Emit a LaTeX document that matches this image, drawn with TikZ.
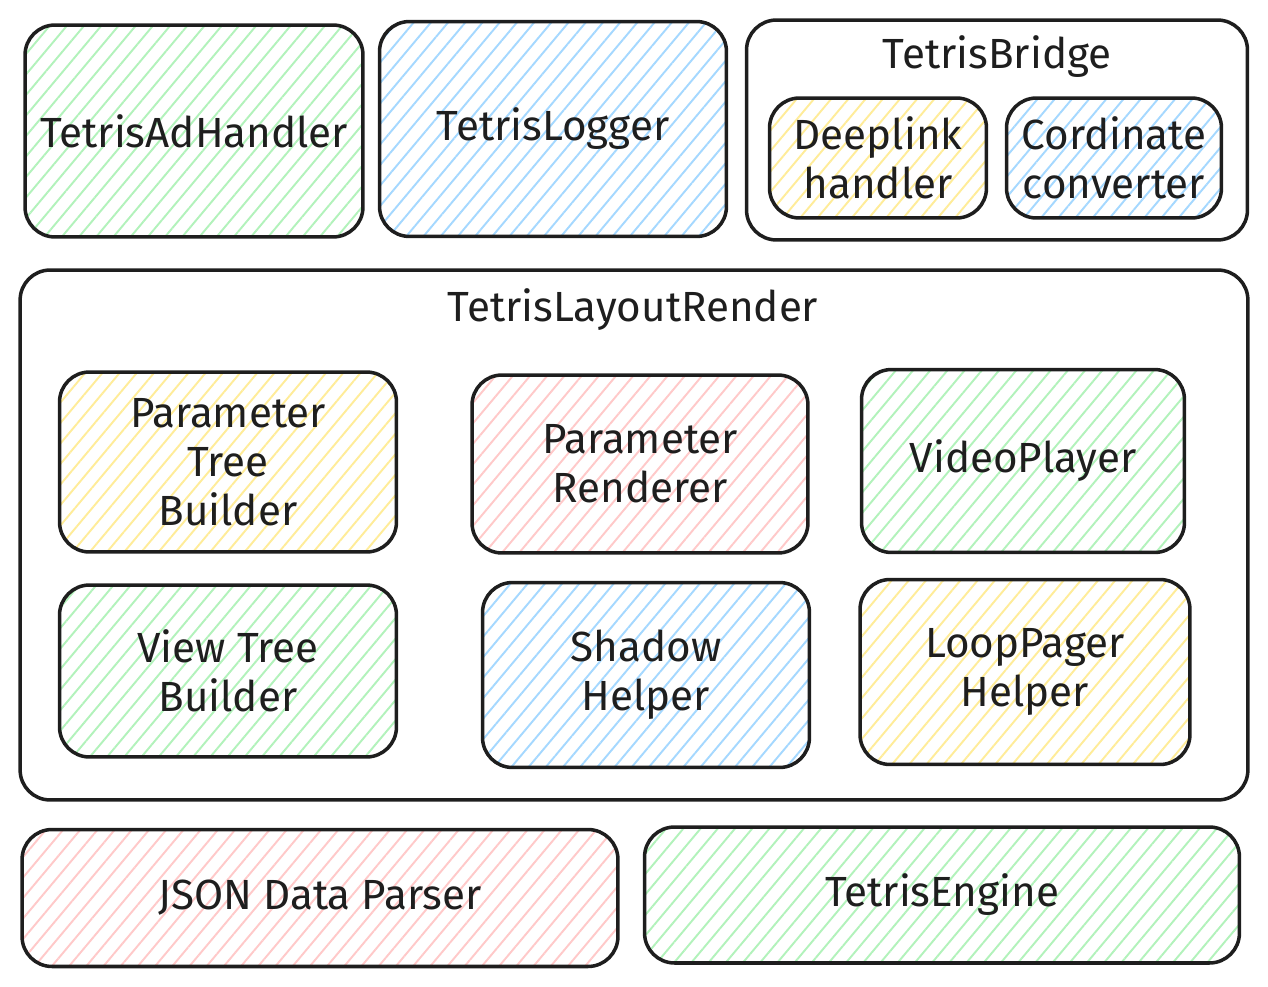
\documentclass[tikz,border=0pt]{standalone}
\usepackage{fontspec}
\setmainfont{Fira Sans}
\usepackage{xcolor}
\usetikzlibrary{patterns.meta}
\usepackage{tikz}

\definecolor{ink}{HTML}{1E1E1E}
\definecolor{hgreen}{HTML}{B2F2BB}
\definecolor{hblue}{HTML}{A5D8FF}
\definecolor{hyellow}{HTML}{FFEC99}
\definecolor{hred}{HTML}{FFC9C9}

\tikzset{
  block/.style={draw=ink, line width=2pt, rounded corners=0.6cm,
    align=center, inner sep=0pt, text=ink,
    font=\fontsize{24}{28}\selectfont},
  hatch/.style={block, pattern={Lines[angle=50,distance=7.5pt,line width=1.1pt]},
    pattern color=#1},
  frame/.style={block},
  caption/.style={text=ink, font=\fontsize{24}{28}\selectfont}
}

\begin{document}
\begin{tikzpicture}[x=0.02cm,y=-0.02cm]
  \useasboundingbox (0,0) rectangle (1268,987);

  % top row
  \node [hatch=hgreen, minimum width=6.76cm, minimum height=4.24cm] (adhandler) at (194,131) {TetrisAdHandler};
  \node [hatch=hblue, minimum width=6.94cm, minimum height=4.30cm] (logger) at (553,129) {TetrisLogger};

  \node [frame, minimum width=10.02cm, minimum height=4.40cm] (bridge) at (997,130) {};
  \node [caption] (bridgetitle) at (997,57) {TetrisBridge};
  \node [hatch=hyellow, minimum width=4.34cm, minimum height=2.40cm] (deeplink) at (878,158) {Deeplink\\handler};
  \node [hatch=hblue, minimum width=4.30cm, minimum height=2.40cm] (coordconv) at (1114,158) {Cordinate\\converter};

  % layout render
  \node [frame, minimum width=24.56cm, minimum height=10.60cm] (render) at (634,535) {};
  \node [caption] (rendertitle) at (633,310) {TetrisLayoutRender};

  \node [hatch=hyellow, minimum width=6.74cm, minimum height=3.60cm] (treebuilder) at (228,462) {Parameter\\Tree\\Builder};
  \node [hatch=hred, minimum width=6.72cm, minimum height=3.56cm] (paramrender) at (640,464) {Parameter\\Renderer};
  \node [hatch=hgreen, minimum width=6.46cm, minimum height=3.66cm] (video) at (1023,461) {VideoPlayer};

  \node [hatch=hgreen, minimum width=6.74cm, minimum height=3.44cm] (viewtree) at (228,671) {View Tree\\Builder};
  \node [hatch=hblue, minimum width=6.54cm, minimum height=3.70cm] (shadow) at (646,675) {Shadow\\Helper};
  \node [hatch=hyellow, minimum width=6.60cm, minimum height=3.70cm] (looppager) at (1025,672) {LoopPager\\Helper};

  % bottom row
  \node [hatch=hred, minimum width=11.92cm, minimum height=2.74cm] (jsonparser) at (320,898) {JSON Data Parser};
  \node [hatch=hgreen, minimum width=11.90cm, minimum height=2.72cm] (engine) at (942,895) {TetrisEngine};

\end{tikzpicture}
\end{document}
